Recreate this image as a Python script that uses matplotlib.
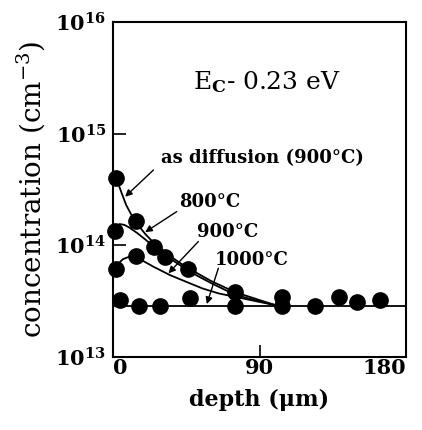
import matplotlib
matplotlib.use('Agg')
import matplotlib.pyplot as plt

plt.rcParams['font.family'] = ['DejaVu Serif']
plt.rcParams['font.weight'] = 'bold'
plt.rcParams['mathtext.fontset'] = 'custom'
plt.rcParams['mathtext.rm'] = 'DejaVu Serif:bold'
plt.rcParams['mathtext.it'] = 'DejaVu Serif:bold'
plt.rcParams['mathtext.bf'] = 'DejaVu Serif:bold'

# measured points (depth in um, concentration in cm^-3)
pts_depth = [2, 14, 1, 25, 32, 46, 14, 2, 75, 104,
             4, 16, 29, 47, 75, 104, 124, 139, 150, 164]
pts_conc = [4.0e14, 1.66e14, 1.34e14, 9.7e13, 7.9e13, 6.1e13, 8.0e13, 6.1e13, 3.85e13, 3.47e13,
            3.2e13, 2.87e13, 2.87e13, 3.35e13, 2.83e13, 2.83e13, 2.87e13, 3.47e13, 3.13e13, 3.24e13]

# fitted curves
asdiff_depth = [2, 5, 8, 11, 14, 20, 25, 30, 35, 42, 50, 60, 75, 88, 100]
asdiff_conc = [4.0e14, 3.0e14, 2.3e14, 1.9e14, 1.6e14, 1.25e14, 1.05e14, 9.2e13, 8.0e13, 6.8e13,
               5.8e13, 4.8e13, 3.8e13, 3.3e13, 2.9e13]
d800_depth = [0, 2, 4, 7, 10, 15, 20, 27, 35, 42, 50, 60, 75, 88, 100]
d800_conc = [1.30e14, 1.48e14, 1.55e14, 1.52e14, 1.44e14, 1.28e14, 1.12e14, 9.2e13, 7.6e13, 6.5e13,
             5.5e13, 4.6e13, 3.6e13, 3.2e13, 2.9e13]
d900_depth = [0, 3, 6, 10, 13, 18, 25, 35, 45, 55, 65, 75, 88, 100]
d900_conc = [6.0e13, 6.8e13, 7.5e13, 7.9e13, 8.0e13, 7.3e13, 6.4e13, 5.4e13, 4.7e13, 4.1e13,
             3.7e13, 3.45e13, 3.15e13, 2.9e13]
d1000_depth = [0, 180]
d1000_conc = [2.88e13, 2.88e13]

# curve labels: text position, arrow tail, arrow head
labels = ['as diffusion (900°C)', '800°C', '900°C', '1000°C']
label_xy = [(91.5, 6.05e14), (59.6, 2.44e14), (70.6, 1.315e14), (85.1, 7.38e13)]
arrow_from = [(24.8, 4.72e14), (39.1, 2.0e14), (52.4, 1.08e14), (64.7, 6.22e13)]
arrow_to = [(7.4, 2.72e14), (19.7, 1.31e14), (34.0, 5.6e13), (57.6, 2.97e13)]

fig = plt.figure(figsize=(4.22, 4.30), dpi=100)
ax = fig.add_axes([0.268, 0.170, 0.694, 0.779])

ax.plot(asdiff_depth, asdiff_conc, color='black', lw=1.3)
ax.plot(d800_depth, d800_conc, color='black', lw=1.3)
ax.plot(d900_depth, d900_conc, color='black', lw=1.3)
ax.plot(d1000_depth, d1000_conc, color='black', lw=1.3)
ax.plot(pts_depth, pts_conc, 'o', color='black', markersize=11, clip_on=False)

ax.set_yscale('log')
ax.set_xlim(0, 180)
ax.set_ylim(1e13, 1e16)
ax.set_xticks([0, 90, 180])
ax.set_xticklabels(['0', '90', '180'], fontsize=15)
xl = ax.get_xticklabels()
xl[0].set_ha('left')
xl[2].set_ha('right')
ax.set_yticks([1e13, 1e14, 1e15, 1e16])
ax.set_yticklabels([r'$10^{13}$', r'$10^{14}$', r'$10^{15}$', r'$10^{16}$'], fontsize=15)
ax.minorticks_off()
ax.tick_params(direction='in', length=9, width=1.2)
ax.tick_params(axis='x', pad=1)
ax.tick_params(axis='y', pad=5)
for s in ax.spines.values():
    s.set_linewidth(1.5)

ax.set_xlabel('depth (μm)', fontsize=16, fontweight='bold', labelpad=8)
ax.set_ylabel(r'concentration (cm$^{\mathregular{-3}}$)', fontsize=20,
              fontweight='normal', labelpad=6)

ax.text(0.525, 0.82, r'E$_{\mathrm{C}}$- 0.23 eV', transform=ax.transAxes,
        fontsize=18, ha='center', va='center', fontweight='normal')

arrow = dict(arrowstyle='-|>', color='black', lw=1.0, mutation_scale=10,
             shrinkA=0, shrinkB=0)
for txt, pos, a0, a1 in zip(labels, label_xy, arrow_from, arrow_to):
    ax.text(pos[0], pos[1], txt, fontsize=13, ha='center', va='center')
    ax.annotate('', xy=a1, xytext=a0, arrowprops=arrow)

fig.savefig('out.png', dpi=100)
